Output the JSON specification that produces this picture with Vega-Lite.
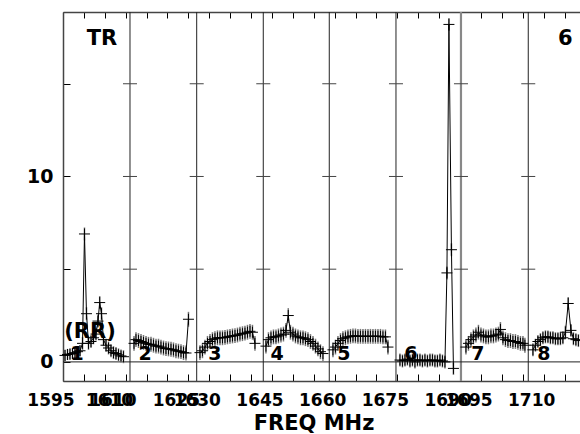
{
 "$schema": "https://vega.github.io/schema/vega-lite/v6.json",
 "width": 517,
 "height": 369,
 "autosize": {"type": "none"},
 "padding": {"left": 63, "top": 12, "right": 0, "bottom": 53},
 "background": "white",
 "config": {
  "view": {"stroke": null},
  "axis": {"grid": false, "labelFont": "DejaVu Sans", "labelFontWeight": "bold", "labelColor": "black", "titleFont": "DejaVu Sans", "titleFontWeight": "bold", "titleColor": "black", "domainColor": "#444", "tickColor": "black"}
 },
 "datasets": {
  "edges": [{"f": 1611.03}, {"f": 1626.99}, {"f": 1642.92}, {"f": 1658.71}, {"f": 1674.67}, {"f": 1706.32}],
  "edges2": [{"f": 1690.22}],
  "cross": [
   {"f": 1611.03, "v": 5}, {"f": 1611.03, "v": 10}, {"f": 1611.03, "v": 15},
   {"f": 1626.99, "v": 5}, {"f": 1626.99, "v": 10}, {"f": 1626.99, "v": 15},
   {"f": 1642.92, "v": 5}, {"f": 1642.92, "v": 10}, {"f": 1642.92, "v": 15},
   {"f": 1658.71, "v": 5}, {"f": 1658.71, "v": 10}, {"f": 1658.71, "v": 15},
   {"f": 1674.67, "v": 5}, {"f": 1674.67, "v": 10}, {"f": 1674.67, "v": 15},
   {"f": 1690.22, "v": 5}, {"f": 1690.22, "v": 10}, {"f": 1690.22, "v": 15},
   {"f": 1706.32, "v": 5}, {"f": 1706.32, "v": 10}, {"f": 1706.32, "v": 15}
  ],
  "spec": [
   {"p": 1, "f": 1595.48, "v": 0.35, "e": 0.3}, {"p": 1, "f": 1596.08, "v": 0.4, "e": 0.3}, {"p": 1, "f": 1596.67, "v": 0.42, "e": 0.3}, {"p": 1, "f": 1597.27, "v": 0.45, "e": 0.3}, {"p": 1, "f": 1597.87, "v": 0.5, "e": 0.3}, {"p": 1, "f": 1598.47, "v": 0.55, "e": 0.3}, {"p": 1, "f": 1599.07, "v": 0.6, "e": 0.3}, {"p": 1, "f": 1599.67, "v": 1.0, "e": 0.35}, {"p": 1, "f": 1600.14, "v": 6.9, "e": 0.35}, {"p": 1, "f": 1600.62, "v": 2.6, "e": 0.35}, {"p": 1, "f": 1601.10, "v": 1.0, "e": 0.35}, {"p": 1, "f": 1601.70, "v": 1.1, "e": 0.35}, {"p": 1, "f": 1602.30, "v": 1.3, "e": 0.35}, {"p": 1, "f": 1602.89, "v": 1.5, "e": 0.35}, {"p": 1, "f": 1603.37, "v": 2.2, "e": 0.35}, {"p": 1, "f": 1603.78, "v": 3.2, "e": 0.35}, {"p": 1, "f": 1604.21, "v": 2.6, "e": 0.35}, {"p": 1, "f": 1604.69, "v": 1.2, "e": 0.35}, {"p": 1, "f": 1605.29, "v": 0.9, "e": 0.35}, {"p": 1, "f": 1605.89, "v": 0.75, "e": 0.35}, {"p": 1, "f": 1606.48, "v": 0.6, "e": 0.35}, {"p": 1, "f": 1607.08, "v": 0.5, "e": 0.35}, {"p": 1, "f": 1607.68, "v": 0.45, "e": 0.35}, {"p": 1, "f": 1608.28, "v": 0.38, "e": 0.35}, {"p": 1, "f": 1608.88, "v": 0.32, "e": 0.35}, {"p": 1, "f": 1609.47, "v": 0.28, "e": 0.35},
   {"p": 2, "f": 1611.99, "v": 1.0, "e": 0.4}, {"p": 2, "f": 1612.46, "v": 1.2, "e": 0.4}, {"p": 2, "f": 1613.06, "v": 1.15, "e": 0.4}, {"p": 2, "f": 1613.66, "v": 1.1, "e": 0.4}, {"p": 2, "f": 1614.26, "v": 1.05, "e": 0.4}, {"p": 2, "f": 1614.86, "v": 1.0, "e": 0.4}, {"p": 2, "f": 1615.45, "v": 0.95, "e": 0.4}, {"p": 2, "f": 1616.05, "v": 0.95, "e": 0.4}, {"p": 2, "f": 1616.65, "v": 0.9, "e": 0.4}, {"p": 2, "f": 1617.25, "v": 0.85, "e": 0.4}, {"p": 2, "f": 1617.85, "v": 0.85, "e": 0.4}, {"p": 2, "f": 1618.44, "v": 0.8, "e": 0.4}, {"p": 2, "f": 1619.04, "v": 0.75, "e": 0.4}, {"p": 2, "f": 1619.64, "v": 0.72, "e": 0.4}, {"p": 2, "f": 1620.24, "v": 0.7, "e": 0.4}, {"p": 2, "f": 1620.84, "v": 0.68, "e": 0.4}, {"p": 2, "f": 1621.43, "v": 0.65, "e": 0.4}, {"p": 2, "f": 1622.03, "v": 0.6, "e": 0.4}, {"p": 2, "f": 1622.63, "v": 0.58, "e": 0.4}, {"p": 2, "f": 1623.23, "v": 0.55, "e": 0.4}, {"p": 2, "f": 1623.83, "v": 0.5, "e": 0.4}, {"p": 2, "f": 1624.43, "v": 0.48, "e": 0.4}, {"p": 2, "f": 1625.02, "v": 2.3, "e": 0.4},
   {"p": 3, "f": 1627.77, "v": 0.5, "e": 0.4}, {"p": 3, "f": 1628.37, "v": 0.6, "e": 0.4}, {"p": 3, "f": 1628.97, "v": 0.8, "e": 0.4}, {"p": 3, "f": 1629.57, "v": 1.0, "e": 0.4}, {"p": 3, "f": 1630.17, "v": 1.1, "e": 0.4}, {"p": 3, "f": 1630.76, "v": 1.2, "e": 0.4}, {"p": 3, "f": 1631.36, "v": 1.25, "e": 0.4}, {"p": 3, "f": 1631.96, "v": 1.3, "e": 0.4}, {"p": 3, "f": 1632.56, "v": 1.3, "e": 0.4}, {"p": 3, "f": 1633.16, "v": 1.3, "e": 0.4}, {"p": 3, "f": 1633.76, "v": 1.32, "e": 0.4}, {"p": 3, "f": 1634.35, "v": 1.35, "e": 0.4}, {"p": 3, "f": 1634.95, "v": 1.38, "e": 0.4}, {"p": 3, "f": 1635.55, "v": 1.4, "e": 0.4}, {"p": 3, "f": 1636.15, "v": 1.42, "e": 0.4}, {"p": 3, "f": 1636.75, "v": 1.45, "e": 0.4}, {"p": 3, "f": 1637.34, "v": 1.5, "e": 0.4}, {"p": 3, "f": 1637.94, "v": 1.52, "e": 0.4}, {"p": 3, "f": 1638.54, "v": 1.55, "e": 0.4}, {"p": 3, "f": 1639.14, "v": 1.6, "e": 0.4}, {"p": 3, "f": 1639.74, "v": 1.65, "e": 0.4}, {"p": 3, "f": 1640.33, "v": 1.6, "e": 0.4}, {"p": 3, "f": 1640.93, "v": 1.0, "e": 0.4},
   {"p": 4, "f": 1643.56, "v": 0.85, "e": 0.4}, {"p": 4, "f": 1644.16, "v": 1.2, "e": 0.4}, {"p": 4, "f": 1644.76, "v": 1.3, "e": 0.4}, {"p": 4, "f": 1645.36, "v": 1.35, "e": 0.4}, {"p": 4, "f": 1645.96, "v": 1.35, "e": 0.4}, {"p": 4, "f": 1646.55, "v": 1.4, "e": 0.4}, {"p": 4, "f": 1647.15, "v": 1.45, "e": 0.4}, {"p": 4, "f": 1647.75, "v": 1.5, "e": 0.4}, {"p": 4, "f": 1648.35, "v": 1.7, "e": 0.4}, {"p": 4, "f": 1648.90, "v": 2.5, "e": 0.4}, {"p": 4, "f": 1649.42, "v": 1.6, "e": 0.4}, {"p": 4, "f": 1650.02, "v": 1.5, "e": 0.4}, {"p": 4, "f": 1650.62, "v": 1.4, "e": 0.4}, {"p": 4, "f": 1651.22, "v": 1.35, "e": 0.4}, {"p": 4, "f": 1651.82, "v": 1.3, "e": 0.4}, {"p": 4, "f": 1652.42, "v": 1.3, "e": 0.4}, {"p": 4, "f": 1653.01, "v": 1.25, "e": 0.4}, {"p": 4, "f": 1653.61, "v": 1.2, "e": 0.4}, {"p": 4, "f": 1654.21, "v": 1.1, "e": 0.4}, {"p": 4, "f": 1654.81, "v": 1.0, "e": 0.4}, {"p": 4, "f": 1655.41, "v": 0.85, "e": 0.4}, {"p": 4, "f": 1656.00, "v": 0.7, "e": 0.4}, {"p": 4, "f": 1656.60, "v": 0.55, "e": 0.4}, {"p": 4, "f": 1657.20, "v": 0.45, "e": 0.4},
   {"p": 5, "f": 1659.59, "v": 0.65, "e": 0.4}, {"p": 5, "f": 1660.19, "v": 0.8, "e": 0.4}, {"p": 5, "f": 1660.79, "v": 1.0, "e": 0.4}, {"p": 5, "f": 1661.39, "v": 1.15, "e": 0.4}, {"p": 5, "f": 1661.98, "v": 1.25, "e": 0.4}, {"p": 5, "f": 1662.58, "v": 1.3, "e": 0.4}, {"p": 5, "f": 1663.18, "v": 1.35, "e": 0.4}, {"p": 5, "f": 1663.78, "v": 1.38, "e": 0.4}, {"p": 5, "f": 1664.38, "v": 1.4, "e": 0.4}, {"p": 5, "f": 1664.97, "v": 1.4, "e": 0.4}, {"p": 5, "f": 1665.57, "v": 1.38, "e": 0.4}, {"p": 5, "f": 1666.17, "v": 1.38, "e": 0.4}, {"p": 5, "f": 1666.77, "v": 1.38, "e": 0.4}, {"p": 5, "f": 1667.37, "v": 1.38, "e": 0.4}, {"p": 5, "f": 1667.97, "v": 1.38, "e": 0.4}, {"p": 5, "f": 1668.56, "v": 1.38, "e": 0.4}, {"p": 5, "f": 1669.16, "v": 1.38, "e": 0.4}, {"p": 5, "f": 1669.76, "v": 1.38, "e": 0.4}, {"p": 5, "f": 1670.36, "v": 1.38, "e": 0.4}, {"p": 5, "f": 1670.96, "v": 1.38, "e": 0.4}, {"p": 5, "f": 1671.55, "v": 1.35, "e": 0.4}, {"p": 5, "f": 1672.15, "v": 1.35, "e": 0.4}, {"p": 5, "f": 1672.75, "v": 0.8, "e": 0.4},
   {"p": 6, "f": 1675.62, "v": 0.1, "e": 0.35}, {"p": 6, "f": 1676.22, "v": 0.05, "e": 0.35}, {"p": 6, "f": 1676.82, "v": 0.1, "e": 0.35}, {"p": 6, "f": 1677.41, "v": 0.15, "e": 0.35}, {"p": 6, "f": 1678.01, "v": 0.05, "e": 0.35}, {"p": 6, "f": 1678.61, "v": 0.1, "e": 0.35}, {"p": 6, "f": 1679.21, "v": 0.0, "e": 0.35}, {"p": 6, "f": 1679.81, "v": 0.1, "e": 0.35}, {"p": 6, "f": 1680.41, "v": 0.1, "e": 0.35}, {"p": 6, "f": 1681.00, "v": 0.05, "e": 0.35}, {"p": 6, "f": 1681.60, "v": 0.1, "e": 0.35}, {"p": 6, "f": 1682.20, "v": 0.05, "e": 0.35}, {"p": 6, "f": 1682.80, "v": 0.1, "e": 0.35}, {"p": 6, "f": 1683.40, "v": 0.1, "e": 0.35}, {"p": 6, "f": 1683.99, "v": 0.05, "e": 0.35}, {"p": 6, "f": 1684.59, "v": 0.05, "e": 0.35}, {"p": 6, "f": 1685.19, "v": 0.1, "e": 0.35}, {"p": 6, "f": 1685.79, "v": 0.05, "e": 0.35}, {"p": 6, "f": 1686.39, "v": 0.0, "e": 0.35}, {"p": 6, "f": 1686.86, "v": 4.8, "e": 0.35}, {"p": 6, "f": 1687.34, "v": 18.2, "e": 0.35}, {"p": 6, "f": 1687.94, "v": 6.05, "e": 0.35}, {"p": 6, "f": 1688.42, "v": -0.35, "e": 0.35},
   {"p": 7, "f": 1691.41, "v": 0.8, "e": 0.4}, {"p": 7, "f": 1692.01, "v": 1.0, "e": 0.4}, {"p": 7, "f": 1692.61, "v": 1.2, "e": 0.4}, {"p": 7, "f": 1693.20, "v": 1.35, "e": 0.4}, {"p": 7, "f": 1693.80, "v": 1.45, "e": 0.4}, {"p": 7, "f": 1694.40, "v": 1.6, "e": 0.4}, {"p": 7, "f": 1695.00, "v": 1.45, "e": 0.4}, {"p": 7, "f": 1695.60, "v": 1.4, "e": 0.4}, {"p": 7, "f": 1696.19, "v": 1.35, "e": 0.4}, {"p": 7, "f": 1696.79, "v": 1.35, "e": 0.4}, {"p": 7, "f": 1697.39, "v": 1.4, "e": 0.4}, {"p": 7, "f": 1697.99, "v": 1.4, "e": 0.4}, {"p": 7, "f": 1698.59, "v": 1.45, "e": 0.4}, {"p": 7, "f": 1699.18, "v": 1.5, "e": 0.4}, {"p": 7, "f": 1699.66, "v": 1.75, "e": 0.4}, {"p": 7, "f": 1700.26, "v": 1.3, "e": 0.4}, {"p": 7, "f": 1700.86, "v": 1.2, "e": 0.4}, {"p": 7, "f": 1701.46, "v": 1.15, "e": 0.4}, {"p": 7, "f": 1702.06, "v": 1.15, "e": 0.4}, {"p": 7, "f": 1702.65, "v": 1.1, "e": 0.4}, {"p": 7, "f": 1703.25, "v": 1.1, "e": 0.4}, {"p": 7, "f": 1703.85, "v": 1.05, "e": 0.4}, {"p": 7, "f": 1704.45, "v": 1.0, "e": 0.4}, {"p": 7, "f": 1705.05, "v": 1.0, "e": 0.4}, {"p": 7, "f": 1705.52, "v": 0.9, "e": 0.4},
   {"p": 8, "f": 1707.44, "v": 0.65, "e": 0.35}, {"p": 8, "f": 1708.04, "v": 0.9, "e": 0.35}, {"p": 8, "f": 1708.63, "v": 1.1, "e": 0.35}, {"p": 8, "f": 1709.23, "v": 1.2, "e": 0.35}, {"p": 8, "f": 1709.83, "v": 1.3, "e": 0.35}, {"p": 8, "f": 1710.43, "v": 1.35, "e": 0.35}, {"p": 8, "f": 1711.03, "v": 1.35, "e": 0.35}, {"p": 8, "f": 1711.62, "v": 1.3, "e": 0.35}, {"p": 8, "f": 1712.22, "v": 1.3, "e": 0.35}, {"p": 8, "f": 1712.82, "v": 1.25, "e": 0.35}, {"p": 8, "f": 1713.42, "v": 1.25, "e": 0.35}, {"p": 8, "f": 1714.02, "v": 1.25, "e": 0.35}, {"p": 8, "f": 1714.61, "v": 1.3, "e": 0.35}, {"p": 8, "f": 1715.21, "v": 1.6, "e": 0.35}, {"p": 8, "f": 1715.88, "v": 3.15, "e": 0.35}, {"p": 8, "f": 1716.53, "v": 1.7, "e": 0.35}, {"p": 8, "f": 1717.13, "v": 1.25, "e": 0.35}, {"p": 8, "f": 1717.72, "v": 1.2, "e": 0.35}, {"p": 8, "f": 1718.32, "v": 1.15, "e": 0.35}
  ],
  "nums": [
   {"t": "1", "f": 1598.35, "v": 0.08}, {"t": "2", "f": 1614.62, "v": 0.08}, {"t": "3", "f": 1631.36, "v": 0.08}, {"t": "4", "f": 1646.2, "v": 0.08},
   {"t": "5", "f": 1662.22, "v": 0.08}, {"t": "6", "f": 1678.25, "v": 0.08}, {"t": "7", "f": 1694.28, "v": 0.08}, {"t": "8", "f": 1710.07, "v": 0.08}
  ],
  "notes": [
   {"t": "TR", "f": 1604.33, "v": 17.1}, {"t": "6", "f": 1715.21, "v": 17.1}, {"t": "(RR)", "f": 1601.46, "v": 1.3}
  ]
 },
 "resolve": {"axis": {"x": "independent", "y": "independent"}},
 "layer": [
  {
   "data": {"name": "edges"},
   "mark": {"type": "rule", "color": "#222", "strokeWidth": 1},
   "encoding": {"x": {"field": "f", "type": "quantitative", "scale": {"domain": [1595, 1718.7], "nice": false, "zero": false}, "axis": null}}
  },
  {
   "data": {"name": "edges2"},
   "mark": {"type": "rule", "color": "#888", "strokeWidth": 2.2},
   "encoding": {"x": {"field": "f", "type": "quantitative", "scale": {"domain": [1595, 1718.7], "nice": false, "zero": false}, "axis": null}}
  },
  {
   "data": {"name": "cross"},
   "mark": {"type": "point", "shape": "M-1,0H1", "filled": false, "stroke": "#444", "strokeWidth": 1, "size": 196, "opacity": 1},
   "encoding": {
    "x": {"field": "f", "type": "quantitative", "scale": {"domain": [1595, 1718.7], "nice": false, "zero": false},
          "axis": {"orient": "bottom", "values": [1595, 1600, 1605, 1610, 1615, 1620, 1625, 1630, 1635, 1640, 1645, 1650, 1655, 1660, 1665, 1670, 1675, 1680, 1685, 1690, 1695, 1700, 1705, 1710, 1715], "tickSize": -7, "labels": false, "domain": true, "domainWidth": 1.5, "title": null}},
    "y": {"field": "v", "type": "quantitative", "scale": {"domain": [-1.03, 18.87], "nice": false, "zero": false},
          "axis": {"orient": "left", "values": [0, 5, 10, 15], "tickSize": -7, "labels": false, "domain": true, "domainWidth": 1.5, "title": null}}
   }
  },
  {
   "data": {"values": [{"v": 0}]},
   "mark": {"type": "rule", "color": "#222", "strokeWidth": 1},
   "encoding": {"y": {"field": "v", "type": "quantitative", "scale": {"domain": [-1.03, 18.87], "nice": false, "zero": false}, "axis": null}}
  },
  {
   "data": {"name": "spec"},
   "mark": {"type": "errorbar", "color": "#777", "thickness": 1.5},
   "encoding": {
    "x": {"field": "f", "type": "quantitative", "scale": {"domain": [1595, 1718.7], "nice": false, "zero": false}, "axis": null},
    "y": {"field": "v", "type": "quantitative", "scale": {"domain": [-1.03, 18.87], "nice": false, "zero": false}, "axis": null},
    "yError": {"field": "e"}
   }
  },
  {
   "data": {"name": "spec"},
   "mark": {"type": "line", "color": "black", "strokeWidth": 1},
   "encoding": {
    "detail": {"field": "p", "type": "nominal"},
    "x": {"field": "f", "type": "quantitative", "scale": {"domain": [1595, 1718.7], "nice": false, "zero": false},
          "axis": {"orient": "top", "values": [1595, 1600, 1605, 1610, 1615, 1620, 1625, 1630, 1635, 1640, 1645, 1650, 1655, 1660, 1665, 1670, 1675, 1680, 1685, 1690, 1695, 1700, 1705, 1710, 1715], "tickSize": -6, "labels": false, "domain": true, "domainWidth": 1.5, "title": null}},
    "y": {"field": "v", "type": "quantitative", "scale": {"domain": [-1.03, 18.87], "nice": false, "zero": false},
          "axis": {"orient": "left", "values": [0, 10], "ticks": false, "domain": false, "labelPadding": 10, "labelFontSize": 19, "title": null}}
   }
  },
  {
   "data": {"name": "spec"},
   "mark": {"type": "point", "shape": "M-1,0H1M0,-1V1", "filled": false, "stroke": "black", "strokeWidth": 1, "size": 121, "opacity": 1},
   "encoding": {
    "x": {"field": "f", "type": "quantitative", "scale": {"domain": [1595, 1718.7], "nice": false, "zero": false},
          "axis": {"orient": "bottom", "values": [1595, 1609, 1609.8, 1625, 1630, 1645, 1660, 1675, 1690, 1695, 1710], "format": "d", "labelExpr": "datum.value == 1609 ? '1610' : datum.label", "ticks": false, "domain": false, "labelPadding": 11, "labelOffset": -12.5, "labelFontSize": 17, "labelFlush": false, "labelOverlap": false, "labelBound": false,
                   "title": "FREQ MHz", "titleFontSize": 21, "titleX": 250.5, "titleY": 48.5, "titleBaseline": "alphabetic", "titleAlign": "center"}},
    "y": {"field": "v", "type": "quantitative", "scale": {"domain": [-1.03, 18.87], "nice": false, "zero": false}, "axis": null}
   }
  },
  {
   "data": {"name": "nums"},
   "mark": {"type": "text", "font": "DejaVu Sans", "fontWeight": "bold", "fontSize": 19, "color": "black", "align": "center", "baseline": "alphabetic"},
   "encoding": {
    "x": {"field": "f", "type": "quantitative", "scale": {"domain": [1595, 1718.7], "nice": false, "zero": false}, "axis": null},
    "y": {"field": "v", "type": "quantitative", "scale": {"domain": [-1.03, 18.87], "nice": false, "zero": false}, "axis": null},
    "text": {"field": "t"}
   }
  },
  {
   "data": {"name": "notes"},
   "mark": {"type": "text", "font": "DejaVu Sans", "fontWeight": "bold", "fontSize": 21, "color": "black", "align": "center", "baseline": "alphabetic"},
   "encoding": {
    "x": {"field": "f", "type": "quantitative", "scale": {"domain": [1595, 1718.7], "nice": false, "zero": false}, "axis": null},
    "y": {"field": "v", "type": "quantitative", "scale": {"domain": [-1.03, 18.87], "nice": false, "zero": false}, "axis": null},
    "text": {"field": "t"}
   }
  }
 ]
}
